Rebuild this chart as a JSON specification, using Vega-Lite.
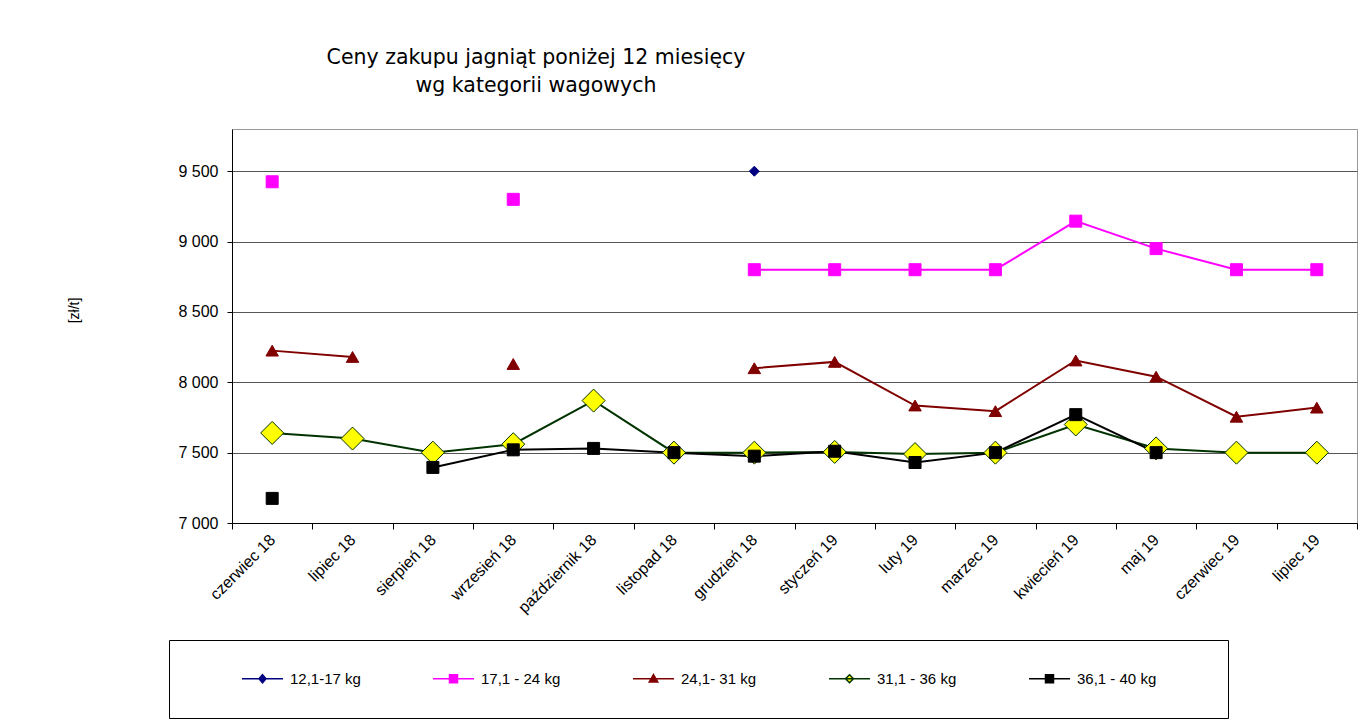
{
  "$schema": "https://vega.github.io/schema/vega-lite/v6.json",
  "width": 1125,
  "height": 394,
  "autosize": "none",
  "padding": {"left": 232, "top": 129, "right": 3, "bottom": 197},
  "background": "#ffffff",
  "title": {
    "text": ["Ceny zakupu jagniąt poniżej 12 miesięcy", "wg kategorii wagowych"],
    "anchor": "start",
    "frame": "group",
    "align": "center",
    "dx": 304,
    "font": "DejaVu Sans",
    "fontSize": 20.5,
    "fontWeight": "normal",
    "color": "#000000",
    "lineHeight": 28,
    "offset": 33
  },
  "data": {
    "values": [
      {"series": "12,1-17 kg", "month": "grudzień 18", "value": 9500},
      {"series": "17,1 - 24 kg", "month": "czerwiec 18", "value": 9425},
      {"series": "17,1 - 24 kg", "month": "lipiec 18", "value": null},
      {"series": "17,1 - 24 kg", "month": "sierpień 18", "value": null},
      {"series": "17,1 - 24 kg", "month": "wrzesień 18", "value": 9300},
      {"series": "17,1 - 24 kg", "month": "październik 18", "value": null},
      {"series": "17,1 - 24 kg", "month": "listopad 18", "value": null},
      {"series": "17,1 - 24 kg", "month": "grudzień 18", "value": 8800},
      {"series": "17,1 - 24 kg", "month": "styczeń 19", "value": 8800},
      {"series": "17,1 - 24 kg", "month": "luty 19", "value": 8800},
      {"series": "17,1 - 24 kg", "month": "marzec 19", "value": 8800},
      {"series": "17,1 - 24 kg", "month": "kwiecień 19", "value": 9145},
      {"series": "17,1 - 24 kg", "month": "maj 19", "value": 8950},
      {"series": "17,1 - 24 kg", "month": "czerwiec 19", "value": 8800},
      {"series": "17,1 - 24 kg", "month": "lipiec 19", "value": 8800},
      {"series": "24,1- 31 kg", "month": "czerwiec 18", "value": 8225},
      {"series": "24,1- 31 kg", "month": "lipiec 18", "value": 8180},
      {"series": "24,1- 31 kg", "month": "sierpień 18", "value": null},
      {"series": "24,1- 31 kg", "month": "wrzesień 18", "value": 8130},
      {"series": "24,1- 31 kg", "month": "październik 18", "value": null},
      {"series": "24,1- 31 kg", "month": "listopad 18", "value": null},
      {"series": "24,1- 31 kg", "month": "grudzień 18", "value": 8100},
      {"series": "24,1- 31 kg", "month": "styczeń 19", "value": 8145},
      {"series": "24,1- 31 kg", "month": "luty 19", "value": 7835},
      {"series": "24,1- 31 kg", "month": "marzec 19", "value": 7795},
      {"series": "24,1- 31 kg", "month": "kwiecień 19", "value": 8155},
      {"series": "24,1- 31 kg", "month": "maj 19", "value": 8040},
      {"series": "24,1- 31 kg", "month": "czerwiec 19", "value": 7755},
      {"series": "24,1- 31 kg", "month": "lipiec 19", "value": 7820},
      {"series": "31,1 - 36 kg", "month": "czerwiec 18", "value": 7640},
      {"series": "31,1 - 36 kg", "month": "lipiec 18", "value": 7600},
      {"series": "31,1 - 36 kg", "month": "sierpień 18", "value": 7500},
      {"series": "31,1 - 36 kg", "month": "wrzesień 18", "value": 7560},
      {"series": "31,1 - 36 kg", "month": "październik 18", "value": 7870},
      {"series": "31,1 - 36 kg", "month": "listopad 18", "value": 7500},
      {"series": "31,1 - 36 kg", "month": "grudzień 18", "value": 7500},
      {"series": "31,1 - 36 kg", "month": "styczeń 19", "value": 7505},
      {"series": "31,1 - 36 kg", "month": "luty 19", "value": 7490},
      {"series": "31,1 - 36 kg", "month": "marzec 19", "value": 7500},
      {"series": "31,1 - 36 kg", "month": "kwiecień 19", "value": 7700},
      {"series": "31,1 - 36 kg", "month": "maj 19", "value": 7530},
      {"series": "31,1 - 36 kg", "month": "czerwiec 19", "value": 7500},
      {"series": "31,1 - 36 kg", "month": "lipiec 19", "value": 7500},
      {"series": "36,1 - 40 kg", "month": "czerwiec 18", "value": 7175},
      {"series": "36,1 - 40 kg", "month": "lipiec 18", "value": null},
      {"series": "36,1 - 40 kg", "month": "sierpień 18", "value": 7395},
      {"series": "36,1 - 40 kg", "month": "wrzesień 18", "value": 7520},
      {"series": "36,1 - 40 kg", "month": "październik 18", "value": 7530},
      {"series": "36,1 - 40 kg", "month": "listopad 18", "value": 7500},
      {"series": "36,1 - 40 kg", "month": "grudzień 18", "value": 7475},
      {"series": "36,1 - 40 kg", "month": "styczeń 19", "value": 7510},
      {"series": "36,1 - 40 kg", "month": "luty 19", "value": 7430},
      {"series": "36,1 - 40 kg", "month": "marzec 19", "value": 7500},
      {"series": "36,1 - 40 kg", "month": "kwiecień 19", "value": 7770},
      {"series": "36,1 - 40 kg", "month": "maj 19", "value": 7500},
      {"series": "36,1 - 40 kg", "month": "czerwiec 19", "value": null},
      {"series": "36,1 - 40 kg", "month": "lipiec 19", "value": null}
    ]
  },
  "encoding": {
    "x": {
      "field": "month",
      "type": "nominal",
      "bandPosition": 0.5,
      "sort": ["czerwiec 18", "lipiec 18", "sierpień 18", "wrzesień 18", "październik 18", "listopad 18", "grudzień 18", "styczeń 19", "luty 19", "marzec 19", "kwiecień 19", "maj 19", "czerwiec 19", "lipiec 19"],
      "scale": {"type": "band", "paddingInner": 0, "paddingOuter": 0, "domain": ["czerwiec 18", "lipiec 18", "sierpień 18", "wrzesień 18", "październik 18", "listopad 18", "grudzień 18", "styczeń 19", "luty 19", "marzec 19", "kwiecień 19", "maj 19", "czerwiec 19", "lipiec 19"]},
      "axis": {
        "title": null,
        "tickBand": "extent",
        "labelAngle": -45,
        "labelAlign": "right",
        "labelBaseline": "middle",
        "labelFont": "Liberation Sans",
        "labelFontSize": 16,
        "labelColor": "#000000",
        "labelPadding": 8,
        "tickSize": 6,
        "tickColor": "#000000",
        "domainColor": "#000000",
        "grid": false
      }
    },
    "y": {
      "field": "value",
      "type": "quantitative",
      "scale": {"domain": [7000, 9800], "nice": false, "zero": false},
      "axis": {
        "values": [7000, 7500, 8000, 8500, 9000, 9500],
        "labelExpr": "replace(format(datum.value, ','), ',', ' ')",
        "labelFont": "Liberation Sans",
        "labelFontSize": 16,
        "labelColor": "#000000",
        "labelPadding": 9,
        "tickSize": 5,
        "tickColor": "#000000",
        "domainColor": "#000000",
        "grid": true,
        "gridColor": "#555555",
        "gridWidth": 1,
        "title": "[zł/t]",
        "titleFont": "Liberation Sans",
        "titleFontSize": 14,
        "titleFontWeight": "normal",
        "titleColor": "#000000",
        "titleX": -158,
        "titleY": 181,
        "titleAngle": -90,
        "titleAlign": "center",
        "titleBaseline": "middle"
      }
    }
  },
  "layer": [
    {
      "mark": {"type": "line", "strokeWidth": 2, "invalid": "break-paths-filter-domains"},
      "encoding": {
        "stroke": {
          "field": "series",
          "type": "nominal",
          "scale": {"domain": ["12,1-17 kg", "17,1 - 24 kg", "24,1- 31 kg", "31,1 - 36 kg", "36,1 - 40 kg"], "range": ["#000080", "#FF00FF", "#800000", "#003300", "#000000"]}
        }
      }
    },
    {
      "transform": [{"filter": {"field": "series", "equal": "12,1-17 kg"}}],
      "mark": {"type": "point", "shape": "diamond", "size": 100, "filled": true, "fill": "#000080", "stroke": "#000080", "strokeWidth": 1, "opacity": 1}
    },
    {
      "transform": [{"filter": {"field": "series", "equal": "17,1 - 24 kg"}}],
      "mark": {"type": "point", "shape": "square", "size": 144, "filled": true, "fill": "#FF00FF", "stroke": "#FF00FF", "strokeWidth": 1, "opacity": 1}
    },
    {
      "transform": [{"filter": {"field": "series", "equal": "24,1- 31 kg"}}],
      "mark": {"type": "point", "shape": "triangle-up", "size": 156, "filled": true, "fill": "#800000", "stroke": "#800000", "strokeWidth": 1, "opacity": 1}
    },
    {
      "transform": [{"filter": {"field": "series", "equal": "31,1 - 36 kg"}}],
      "mark": {"type": "point", "shape": "diamond", "size": 529, "filled": true, "fill": "#FFFF00", "stroke": "#003300", "strokeWidth": 1, "opacity": 1}
    },
    {
      "transform": [{"filter": {"field": "series", "equal": "36,1 - 40 kg"}}],
      "mark": {"type": "point", "shape": "square", "size": 144, "filled": true, "fill": "#000000", "stroke": "#000000", "strokeWidth": 1, "opacity": 1}
    },
    {
      "transform": [{"filter": "false"}],
      "mark": {"type": "point", "filled": true, "opacity": 1, "strokeWidth": 1.5},
      "encoding": {
        "shape": {
          "field": "series",
          "type": "nominal",
          "scale": {"domain": ["12,1-17 kg", "17,1 - 24 kg", "24,1- 31 kg", "31,1 - 36 kg", "36,1 - 40 kg"], "range": ["M-4.1,0H4.1M0,-0.8L0.7,0L0,0.8L-0.7,0Z", "M-4.1,0H4.1M-0.8,-0.8H0.8V0.8H-0.8Z", "M-4.1,0H4.1M0,-0.85L0.85,0.65H-0.85Z", "M-4.1,0H4.1M0,-0.8L0.8,0L0,0.8L-0.8,0Z", "M-4.1,0H4.1M-0.8,-0.8H0.8V0.8H-0.8ZM28.9,0"]},
          "legend": {
            "title": "\u00a0",
            "titleOrient": "left",
            "titlePadding": 55,
            "titleFontSize": 15,
            "orient": "none",
            "legendX": -63,
            "legendY": 511,
            "direction": "horizontal",
            "padding": 31,
            "strokeColor": "#000000",
            "fillColor": "#ffffff",
            "symbolSize": 100,
            "symbolStrokeWidth": 1.5,
            "labelFont": "Liberation Sans",
            "labelFontSize": 15,
            "labelColor": "#000000",
            "labelOffset": 20,
            "labelLimit": 300,
            "columnPadding": 69
          }
        },
        "fill": {
          "field": "series",
          "type": "nominal",
          "scale": {"domain": ["12,1-17 kg", "17,1 - 24 kg", "24,1- 31 kg", "31,1 - 36 kg", "36,1 - 40 kg"], "range": ["#000080", "#FF00FF", "#800000", "#FFFF00", "#000000"]}
        },
        "stroke": {
          "field": "series",
          "type": "nominal",
          "scale": {"domain": ["12,1-17 kg", "17,1 - 24 kg", "24,1- 31 kg", "31,1 - 36 kg", "36,1 - 40 kg"], "range": ["#000080", "#FF00FF", "#800000", "#003300", "#000000"]}
        }
      }
    }
  ],
  "config": {
    "view": {"stroke": "#999999", "strokeWidth": 1}
  }
}
